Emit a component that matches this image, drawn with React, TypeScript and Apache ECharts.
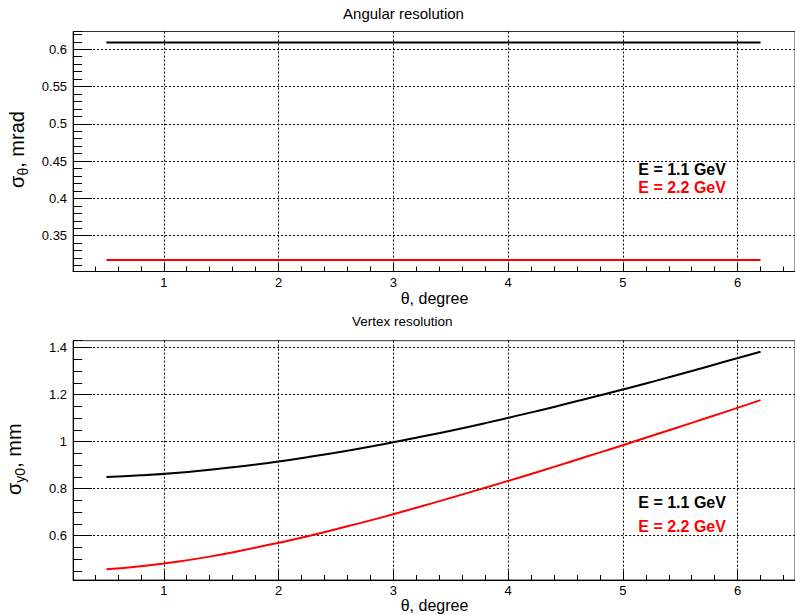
import React, { useEffect, useRef } from "react";
import * as echarts from "echarts";

// ---- data ----
const thetaDeg = [0.5, 0.8, 1.1, 1.4, 1.7, 2.0, 2.3, 2.6, 2.9, 3.2, 3.5, 3.8, 4.1, 4.4, 4.7, 5.0, 5.3, 5.6, 5.9, 6.2];
const angRes11 = [0.609, 0.609, 0.609, 0.609, 0.609, 0.609, 0.609, 0.609, 0.609, 0.609, 0.609, 0.609, 0.609, 0.609, 0.609, 0.609, 0.609, 0.609, 0.609, 0.609];
const angRes22 = [0.3174, 0.3174, 0.3174, 0.3174, 0.3174, 0.3174, 0.3174, 0.3174, 0.3174, 0.3174, 0.3174, 0.3174, 0.3174, 0.3174, 0.3174, 0.3174, 0.3174, 0.3174, 0.3174, 0.3174];
const vtxRes11 = [0.850, 0.857, 0.867, 0.881, 0.897, 0.916, 0.938, 0.962, 0.988, 1.017, 1.047, 1.079, 1.113, 1.148, 1.185, 1.222, 1.261, 1.301, 1.342, 1.383];
const vtxRes22 = [0.457, 0.470, 0.488, 0.511, 0.539, 0.570, 0.603, 0.640, 0.678, 0.719, 0.761, 0.804, 0.848, 0.893, 0.939, 0.985, 1.033, 1.080, 1.128, 1.177];

const xTickLabels = [1, 2, 3, 4, 5, 6];
const yTickLabelsTop = [0.35, 0.4, 0.45, 0.5, 0.55, 0.6];
const yTickLabelsBottom = [0.6, 0.8, 1, 1.2, 1.4];

const legendLabels = ["E = 1.1 GeV", "E = 2.2 GeV"];
const seriesColors = ["#000000", "#ff0000"];

const FONT = "'Liberation Sans', Arial, Helvetica, sans-serif";

const X_MIN = 0.21;
const X_MAX = 6.5;
const TOP_Y = [0.302, 0.6238];
const BOT_Y = [0.4115, 1.4298];

function labelFormatter(list: number[]) {
  return (v: number) => (list.some((t) => Math.abs(t - v) < 1e-6) ? String(v) : "");
}

function mainX(gridIndex: number) {
  return {
    type: "value",
    gridIndex,
    position: "bottom",
    min: X_MIN,
    max: X_MAX,
    splitNumber: 6,
    axisLine: { show: true, onZero: false, lineStyle: { color: "#000", width: 1 } },
    axisTick: { show: true, inside: true, length: 9, lineStyle: { color: "#000", width: 1 } },
    axisLabel: {
      show: true,
      margin: 4,
      color: "#000",
      fontSize: 13,
      fontFamily: FONT,
      showMinLabel: false,
      showMaxLabel: false,
      formatter: labelFormatter(xTickLabels),
    },
    splitLine: {
      show: true,
      showMinLine: false,
      showMaxLine: false,
      lineStyle: { color: "#000", width: 1, type: [2, 2] },
    },
  };
}

function minorX(gridIndex: number) {
  return {
    type: "value",
    gridIndex,
    position: "bottom",
    min: X_MIN,
    max: X_MAX,
    splitNumber: 31,
    axisLine: { show: false },
    axisTick: { show: true, inside: true, length: 5, lineStyle: { color: "#000", width: 1 } },
    axisLabel: { show: false },
    splitLine: { show: false },
  };
}

function mainY(gridIndex: number, range: number[], split: number, labels: number[]) {
  return {
    type: "value",
    gridIndex,
    position: "left",
    min: range[0],
    max: range[1],
    splitNumber: split,
    axisLine: { show: true, onZero: false, lineStyle: { color: "#000", width: 1 } },
    axisTick: { show: true, inside: true, length: 19, lineStyle: { color: "#000", width: 1 } },
    axisLabel: {
      show: true,
      margin: 6,
      color: "#000",
      fontSize: 13,
      fontFamily: FONT,
      showMinLabel: false,
      showMaxLabel: false,
      formatter: labelFormatter(labels),
    },
    splitLine: {
      show: true,
      showMinLine: false,
      showMaxLine: false,
      lineStyle: { color: "#000", width: 1, type: [2, 2] },
    },
  };
}

function minorY(gridIndex: number, range: number[], split: number) {
  return {
    type: "value",
    gridIndex,
    position: "left",
    min: range[0],
    max: range[1],
    splitNumber: split,
    axisLine: { show: false },
    axisTick: { show: true, inside: true, length: 9, lineStyle: { color: "#000", width: 1 } },
    axisLabel: { show: false },
    splitLine: { show: false },
  };
}

function lineSeries(name: string, xi: number, yi: number, ys: number[], color: string) {
  return {
    name,
    type: "line",
    xAxisIndex: xi,
    yAxisIndex: yi,
    data: thetaDeg.map((x, i) => [x, ys[i]]),
    showSymbol: false,
    smooth: true,
    lineStyle: { color, width: 2 },
    itemStyle: { color },
    z: 5,
  };
}

function txt(text: string, x: number, y: number, size: number, opts: any = {}) {
  return {
    type: "text",
    x,
    y,
    rotation: opts.rotation || 0,
    z: 10,
    style: {
      text,
      fontSize: size,
      fontFamily: FONT,
      fontWeight: opts.bold ? "bold" : "normal",
      fill: opts.color || "#000",
      align: opts.align || "center",
      verticalAlign: "middle",
      rich: opts.rich,
    },
  };
}

const subRich = {
  m: { fontSize: 20, fontFamily: FONT, lineHeight: 20, verticalAlign: "top", fill: "#000" },
  s: { fontSize: 14, fontFamily: FONT, lineHeight: 14, verticalAlign: "top", padding: [9, 0, 0, 0], fill: "#000" },
};

export default function App() {
  const ref = useRef<HTMLDivElement>(null);
  useEffect(() => {
    if (!ref.current) return;
    const chart = echarts.init(ref.current, null, { renderer: "svg" });
    const option: any = {
      animation: false,
      backgroundColor: "#ffffff",
      grid: [
        { left: 73.1, right: -4.4, top: 31.5, height: 240, show: true, borderColor: "#333", borderWidth: 1, backgroundColor: "#fff" },
        { left: 73.1, right: -4.4, top: 340.7, height: 239.3, show: true, borderColor: "#333", borderWidth: 1, backgroundColor: "#fff" },
      ],
      xAxis: [mainX(0), minorX(0), mainX(1), minorX(1)],
      yAxis: [
        mainY(0, TOP_Y, 6, yTickLabelsTop),
        minorY(0, TOP_Y, 32),
        mainY(1, BOT_Y, 5, yTickLabelsBottom),
        minorY(1, BOT_Y, 20),
      ],
      series: [
        lineSeries(legendLabels[0], 0, 0, angRes11, seriesColors[0]),
        lineSeries(legendLabels[1], 0, 0, angRes22, seriesColors[1]),
        lineSeries(legendLabels[0] + " ", 2, 2, vtxRes11, seriesColors[0]),
        lineSeries(legendLabels[1] + " ", 2, 2, vtxRes22, seriesColors[1]),
      ],
      graphic: [
        txt("Angular resolution", 403.5, 13, 15),
        txt("Vertex resolution", 402.2, 321.5, 13.5),
        txt("θ, degree", 400.7, 298, 16, { align: "left" }),
        txt("θ, degree", 400.7, 605, 16, { align: "left" }),
        txt("{m|σ}{s|θ}{m|, mrad}", 17, 149.5, 20, { rotation: Math.PI / 2, rich: subRich }),
        txt("{m|σ}{s|y0}{m|, mm}", 14, 459.2, 20, { rotation: Math.PI / 2, rich: subRich }),
        txt(legendLabels[0], 638.3, 169.7, 16, { align: "left", bold: true, color: seriesColors[0] }),
        txt(legendLabels[1], 638.3, 187.2, 16, { align: "left", bold: true, color: seriesColors[1] }),
        txt(legendLabels[0], 638.3, 502, 16, { align: "left", bold: true, color: seriesColors[0] }),
        txt(legendLabels[1], 638.3, 526.8, 16, { align: "left", bold: true, color: seriesColors[1] }),
      ],
    };
    chart.setOption(option);
    return () => chart.dispose();
  }, []);
  return (
    <div
      ref={ref}
      style={{ position: "absolute", left: 0, top: 0, width: 795, height: 615, background: "#fff" }}
    />
  );
}
